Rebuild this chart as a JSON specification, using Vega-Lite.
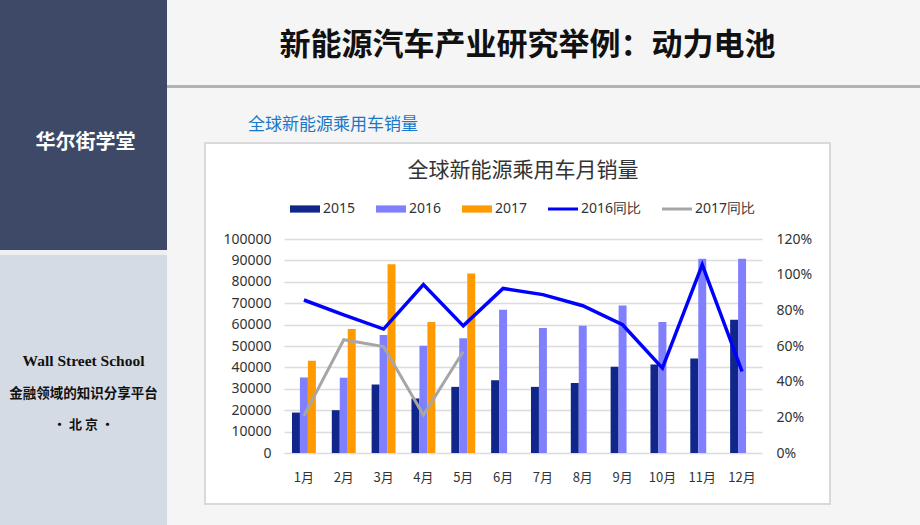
{
  "$schema": "https://vega.github.io/schema/vega-lite/v6.json",
  "padding": 0,
  "background": "white",
  "spacing": 0,
  "config": {
    "view": {"stroke": null},
    "concat": {"spacing": 0},
    "font": "Noto Sans CJK SC"
  },
  "datasets": {
    "sales": [
      {"month": "1月", "series": "2015", "value": 18900},
      {"month": "1月", "series": "2016", "value": 35300},
      {"month": "1月", "series": "2017", "value": 43100},
      {"month": "2月", "series": "2015", "value": 20000},
      {"month": "2月", "series": "2016", "value": 35200},
      {"month": "2月", "series": "2017", "value": 58000},
      {"month": "3月", "series": "2015", "value": 32000},
      {"month": "3月", "series": "2016", "value": 55100},
      {"month": "3月", "series": "2017", "value": 88200},
      {"month": "4月", "series": "2015", "value": 25500},
      {"month": "4月", "series": "2016", "value": 50100},
      {"month": "4月", "series": "2017", "value": 61200},
      {"month": "5月", "series": "2015", "value": 30900},
      {"month": "5月", "series": "2016", "value": 53600},
      {"month": "5月", "series": "2017", "value": 83900},
      {"month": "6月", "series": "2015", "value": 34000},
      {"month": "6月", "series": "2016", "value": 66900},
      {"month": "7月", "series": "2015", "value": 30900},
      {"month": "7月", "series": "2016", "value": 58400},
      {"month": "8月", "series": "2015", "value": 32700},
      {"month": "8月", "series": "2016", "value": 59500},
      {"month": "9月", "series": "2015", "value": 40300},
      {"month": "9月", "series": "2016", "value": 68900},
      {"month": "10月", "series": "2015", "value": 41400},
      {"month": "10月", "series": "2016", "value": 61200},
      {"month": "11月", "series": "2015", "value": 44200},
      {"month": "11月", "series": "2016", "value": 90800},
      {"month": "12月", "series": "2015", "value": 62300},
      {"month": "12月", "series": "2016", "value": 90800}
    ],
    "yoy": [
      {"month": "1月", "series": "2016同比", "pct": 0.858},
      {"month": "2月", "series": "2016同比", "pct": 0.775},
      {"month": "3月", "series": "2016同比", "pct": 0.695},
      {"month": "4月", "series": "2016同比", "pct": 0.944},
      {"month": "5月", "series": "2016同比", "pct": 0.713},
      {"month": "6月", "series": "2016同比", "pct": 0.923},
      {"month": "7月", "series": "2016同比", "pct": 0.888},
      {"month": "8月", "series": "2016同比", "pct": 0.826},
      {"month": "9月", "series": "2016同比", "pct": 0.719},
      {"month": "10月", "series": "2016同比", "pct": 0.476},
      {"month": "11月", "series": "2016同比", "pct": 1.056},
      {"month": "12月", "series": "2016同比", "pct": 0.457},
      {"month": "1月", "series": "2017同比", "pct": 0.208},
      {"month": "2月", "series": "2017同比", "pct": 0.635},
      {"month": "3月", "series": "2017同比", "pct": 0.597},
      {"month": "4月", "series": "2017同比", "pct": 0.213},
      {"month": "5月", "series": "2017同比", "pct": 0.569}
    ],
    "brand": [{"t": "华尔街学堂"}],
    "en": [{"t": "Wall Street School"}],
    "slogan": [{"t": "金融领域的知识分享平台"}],
    "city": [{"t": "• 北 京 •"}],
    "heading": [{"t": "新能源汽车产业研究举例：动力电池"}],
    "subheading": [{"t": "全球新能源乘用车销量"}],
    "empty": []
  },
  "resolve": {"scale": {"color": "independent"}, "legend": {"color": "independent"}},
  "hconcat": [
    {
      "spacing": 0,
      "vconcat": [
        {
          "width": 167, "height": 250,
          "view": {"fill": "#3e4968", "stroke": null},
          "data": {"name": "brand"},
          "mark": {"type": "text", "color": "white", "fontSize": 20, "fontWeight": "bold", "font": "Noto Sans CJK SC", "dy": 18, "dx": 2, "baseline": "middle"},
          "encoding": {"text": {"field": "t"}}
        },
        {
          "width": 167, "height": 5,
          "view": {"fill": "#eeeff2", "stroke": null},
          "data": {"name": "empty"},
          "mark": "point"
        },
        {
          "width": 167, "height": 270,
          "view": {"fill": "#d5dbe4", "stroke": null},
          "layer": [
            {
              "data": {"name": "en"},
              "mark": {"type": "text", "color": "#111", "fontSize": 15.5, "fontWeight": "bold", "font": "Liberation Serif", "dy": -29, "baseline": "middle"},
              "encoding": {"text": {"field": "t"}}
            },
            {
              "data": {"name": "slogan"},
              "mark": {"type": "text", "color": "#111", "fontSize": 13.5, "fontWeight": "bold", "font": "Noto Sans CJK SC", "dy": 4, "baseline": "middle"},
              "encoding": {"text": {"field": "t"}}
            },
            {
              "data": {"name": "city"},
              "mark": {"type": "text", "color": "#111", "fontSize": 13, "fontWeight": "bold", "font": "Noto Sans CJK SC", "dy": 35, "baseline": "middle"},
              "encoding": {"text": {"field": "t"}}
            }
          ]
        }
      ]
    },
    {
      "spacing": 0,
      "resolve": {"scale": {"color": "independent"}, "legend": {"color": "independent"}},
      "vconcat": [
        {
          "width": 753, "height": 85,
          "view": {"fill": "#f5f5f5", "stroke": null},
          "data": {"name": "heading"},
          "mark": {"type": "text", "color": "#111", "fontSize": 31, "fontWeight": "bold", "font": "Noto Sans CJK SC", "dx": -16, "dy": 3, "baseline": "middle"},
          "encoding": {"text": {"field": "t"}}
        },
        {
          "width": 753, "height": 3,
          "view": {"fill": "#b2b2b2", "stroke": null},
          "data": {"name": "empty"},
          "mark": "point"
        },
        {
          "spacing": 0,
          "resolve": {"scale": {"color": "independent"}, "legend": {"color": "independent"}},
          "hconcat": [
            {
              "width": 37, "height": 437,
              "view": {"fill": "#f5f5f5", "stroke": null},
              "data": {"name": "empty"},
              "mark": "point"
            },
            {
              "spacing": 0,
              "resolve": {"scale": {"color": "independent"}, "legend": {"color": "independent"}},
              "vconcat": [
                {
                  "width": 627, "height": 54,
                  "view": {"fill": "#f5f5f5", "stroke": null},
                  "data": {"name": "subheading"},
                  "mark": {"type": "text", "color": "#1b78c6", "fontSize": 17, "font": "Noto Sans CJK SC", "align": "left", "dx": -269.5, "dy": 10, "baseline": "middle"},
                  "encoding": {"text": {"field": "t"}}
                },
                {
                  "width": 627, "height": 2,
                  "view": {"fill": "#d9d9d9", "stroke": null},
                  "data": {"name": "empty"},
                  "mark": "point"
                },
                {
                  "spacing": 0,
                  "resolve": {"scale": {"color": "independent"}, "legend": {"color": "independent"}},
                  "hconcat": [
                    {
                      "width": 2, "height": 359,
                      "view": {"fill": "#d9d9d9", "stroke": null},
                      "data": {"name": "empty"},
                      "mark": "point"
                    },
                    {
                      "spacing": 0,
                      "columns": 2,
                      "bounds": "flush",
                      "resolve": {"scale": {"color": "independent"}, "legend": {"color": "independent"}},
                      "concat": [
                        {"width": 78, "height": 95, "data": {"name": "empty"}, "mark": "point"},
                        {"width": 545, "height": 95, "data": {"name": "empty"}, "mark": "point"},
                        {"width": 78, "height": 264, "data": {"name": "empty"}, "mark": "point"},
                        {
                          "width": 478,
                          "height": 214,
                          "title": {
                            "text": "全球新能源乘用车月销量",
                            "font": "Noto Sans CJK SC",
                            "fontSize": 21,
                            "fontWeight": "normal",
                            "color": "#333333",
                            "anchor": "middle",
                            "offset": 7
                          },
                          "layer": [
                            {
                              "data": {"name": "sales"},
                              "mark": {"type": "bar"},
                              "encoding": {
                                "x": {
                                  "field": "month", "type": "nominal",
                                  "sort": ["1月","2月","3月","4月","5月","6月","7月","8月","9月","10月","11月","12月"],
                                  "scale": {"paddingInner": 0.4, "paddingOuter": 0.2},
                                  "axis": {"title": null, "labelAngle": 0, "ticks": false, "domain": false, "labelPadding": 18, "labelFont": "Noto Sans CJK SC", "labelFontSize": 13, "labelColor": "#333333", "grid": false}
                                },
                                "xOffset": {
                                  "field": "series", "type": "nominal",
                                  "scale": {"domain": ["2015", "2016", "2017"], "paddingInner": 0, "paddingOuter": 0}
                                },
                                "y": {
                                  "field": "value", "type": "quantitative",
                                  "scale": {"domain": [0, 100000]},
                                  "axis": {"title": null, "orient": "left", "values": [0,10000,20000,30000,40000,50000,60000,70000,80000,90000,100000], "format": "d", "ticks": false, "domain": false, "labelPadding": 13, "labelOverlap": false, "labelFont": "Noto Sans", "labelFontSize": 14, "labelColor": "#333333", "grid": true, "gridColor": "#dcdcdc", "gridWidth": 1.5}
                                },
                                "color": {
                                  "field": "series", "type": "nominal",
                                  "scale": {"domain": ["2015", "2016", "2017", "2016同比", "2017同比"], "range": ["#10268a", "#8080ff", "#ff9a00", "#0000ff", "#a6a6a6"]},
                                  "legend": {
                                    "title": null, "orient": "top", "direction": "horizontal", "columns": 5,
                                    "offset": 17, "padding": 6, "columnPadding": 20, "labelOffset": 3, "symbolSize": 900,
                                    "labelFont": "Noto Sans", "labelFontSize": 14, "labelColor": "#333333",
                                    "encode": {"symbols": {"update": {
                                      "shape": {"signal": "indexof(datum.value, '同比') >= 0 ? 'M-1,-0.1H1V0.1H-1Z' : 'M-1,-0.24H1V0.24H-1Z'"},
                                      "fill": {"scale": "color", "field": "value"},
                                      "stroke": {"value": "transparent"},
                                      "strokeWidth": {"value": 0},
                                      "size": {"value": 900},
                                      "opacity": {"value": 1}
                                    }}}
                                  }
                                }
                              }
                            },
                            {
                              "data": {"name": "yoy"},
                              "layer": [
                                {
                                  "transform": [{"filter": "datum.series == '2017同比'"}],
                                  "mark": {"type": "line", "strokeWidth": 3},
                                  "encoding": {
                                    "x": {
                                      "field": "month", "type": "nominal",
                                      "sort": ["1月","2月","3月","4月","5月","6月","7月","8月","9月","10月","11月","12月"]
                                    },
                                    "y": {
                                      "field": "pct", "type": "quantitative",
                                      "scale": {"domain": [0, 1.2]},
                                      "axis": {"title": null, "orient": "right", "values": [0,0.2,0.4,0.6,0.8,1.0,1.2], "format": ".0%", "ticks": false, "domain": false, "labelPadding": 14, "labelOverlap": false, "labelFont": "Noto Sans", "labelFontSize": 14, "labelColor": "#333333", "grid": false}
                                    },
                                    "color": {
                                      "field": "series", "type": "nominal",
                                      "scale": {"domain": ["2015", "2016", "2017", "2016同比", "2017同比"], "range": ["#10268a", "#8080ff", "#ff9a00", "#0000ff", "#a6a6a6"]},
                                      "legend": {
                                        "title": null, "orient": "top", "direction": "horizontal", "columns": 5,
                                        "offset": 17, "padding": 6, "columnPadding": 20, "labelOffset": 3, "symbolSize": 900,
                                        "labelFont": "Noto Sans", "labelFontSize": 14, "labelColor": "#333333",
                                        "encode": {"symbols": {"update": {
                                          "shape": {"signal": "indexof(datum.value, '同比') >= 0 ? 'M-1,-0.1H1V0.1H-1Z' : 'M-1,-0.24H1V0.24H-1Z'"},
                                          "fill": {"scale": "color", "field": "value"},
                                          "stroke": {"value": "transparent"},
                                          "strokeWidth": {"value": 0},
                                          "size": {"value": 900},
                                          "opacity": {"value": 1}
                                        }}}
                                      }
                                    }
                                  }
                                },
                                {
                                  "transform": [{"filter": "datum.series == '2016同比'"}],
                                  "mark": {"type": "line", "strokeWidth": 3.5},
                                  "encoding": {
                                    "x": {
                                      "field": "month", "type": "nominal",
                                      "sort": ["1月","2月","3月","4月","5月","6月","7月","8月","9月","10月","11月","12月"]
                                    },
                                    "y": {"field": "pct", "type": "quantitative", "axis": {"title": null, "orient": "right", "values": [0,0.2,0.4,0.6,0.8,1.0,1.2], "format": ".0%", "ticks": false, "domain": false, "labelPadding": 14, "labelOverlap": false, "labelFont": "Noto Sans", "labelFontSize": 14, "labelColor": "#333333", "grid": false}},
                                    "color": {"field": "series", "type": "nominal"}
                                  }
                                }
                              ]
                            }
                          ],
                          "resolve": {"scale": {"y": "independent"}}
                        }
                      ]
                    },
                    {
                      "width": 2, "height": 359,
                      "view": {"fill": "#d9d9d9", "stroke": null},
                      "data": {"name": "empty"},
                      "mark": "point"
                    }
                  ]
                },
                {
                  "width": 627, "height": 2,
                  "view": {"fill": "#d9d9d9", "stroke": null},
                  "data": {"name": "empty"},
                  "mark": "point"
                },
                {
                  "width": 627, "height": 20,
                  "view": {"fill": "#f5f5f5", "stroke": null},
                  "data": {"name": "empty"},
                  "mark": "point"
                }
              ]
            },
            {
              "width": 89, "height": 437,
              "view": {"fill": "#f5f5f5", "stroke": null},
              "data": {"name": "empty"},
              "mark": "point"
            }
          ]
        }
      ]
    }
  ]
}
